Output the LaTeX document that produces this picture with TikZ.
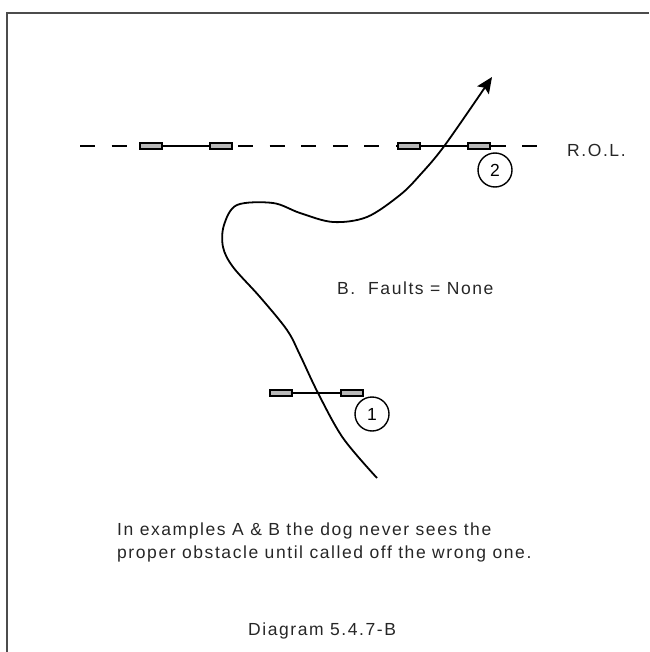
\documentclass[tikz,border=0pt]{standalone}
\usepackage{fontspec}
\setmainfont{Liberation Sans}[LetterSpace=9]
\usetikzlibrary{arrows.meta}
\begin{document}
\begin{tikzpicture}[x=1pt, y=-1pt, >={Stealth[length=16pt,width=14pt,inset=3pt]},
  font=\fontsize{17.5}{23}\selectfont,
  bar/.style={draw, line width=1.3pt, fill=gray!55, minimum width=22pt, minimum height=6pt, inner sep=0pt},
  num/.style={draw, circle, line width=1.4pt, minimum size=34pt, inner sep=0pt},
  txt/.style={anchor=base west, inner sep=0pt, text=black!85}]
\useasboundingbox (0,0) rectangle (649,652);
\draw[black!70, line width=1.5pt] (7,652) -- (7,13) -- (649,13);
\draw[line width=1.8pt, dash pattern=on 15pt off 16.6pt] (80,146) -- (541,146);
\node[bar] (a1) at (151,146) {};
\node[bar] (a2) at (221,146) {};
\node[bar] (b1) at (409,146) {};
\node[bar] (b2) at (479,146) {};
\node[bar] (c1) at (281,393) {};
\node[bar] (c2) at (352,393) {};
\draw[line width=1.5pt] (a1) -- (a2);
\draw[line width=1.5pt] (b1) -- (b2);
\draw[line width=1.5pt] (c1) -- (c2);
\node[num] (n2) at (495,170) {2};
\node[num] (n1) at (372,414) {1};
\draw[line width=1.8pt, ->] plot[smooth, tension=0.55] coordinates {(377,478) (343,438) (318,393) (300,355) (287,330) (260,297) (233,267) (223,247) (224,225) (237,205) (273,203) (300,213) (333,222) (367,217) (400,195) (420,175) (445,145) (492,77)};
\node[txt] (rol) at (567,157) {R.O.L.};
\node[txt] (faults) at (337,294) {B.\ \ Faults = None};
\node[txt] (line1) at (117,535) {In examples A \& B the dog never sees the};
\node[txt] (line2) at (117,558) {proper obstacle until called off the wrong one.};
\node[txt] (caption) at (248,635) {Diagram 5.4.7-B};
\end{tikzpicture}
\end{document}
